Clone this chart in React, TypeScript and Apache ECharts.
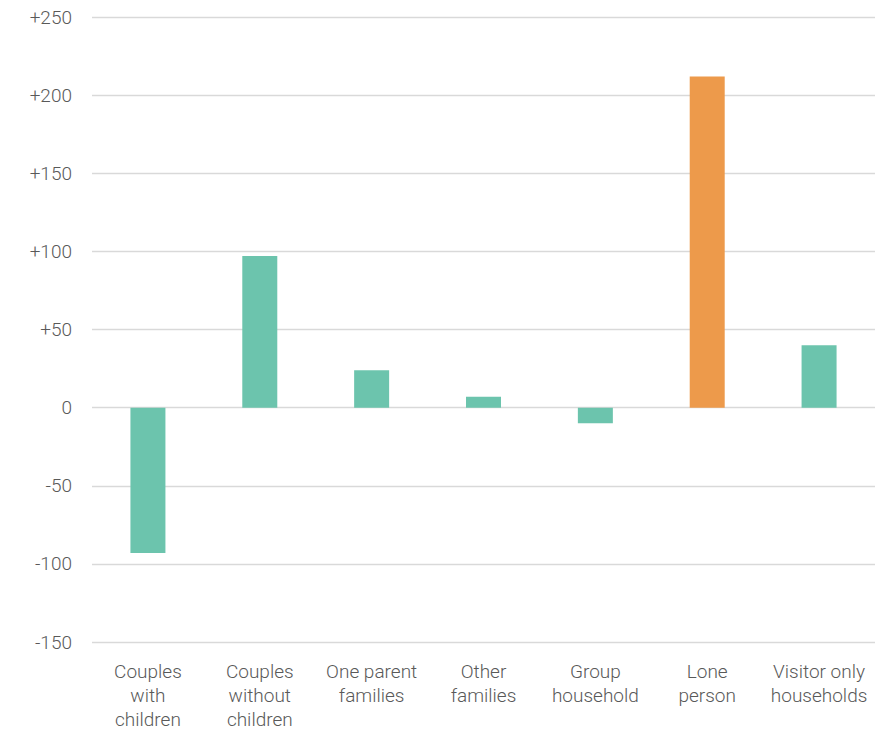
import React, { useEffect, useRef } from "react";
import * as echarts from "echarts";

// Household types and their change in count
const categories = [
  "Couples\nwith\nchildren",
  "Couples\nwithout\nchildren",
  "One parent\nfamilies",
  "Other\nfamilies",
  "Group\nhousehold",
  "Lone\nperson",
  "Visitor only\nhouseholds",
];
const changes = [-93, 97, 24, 7, -10, 212, 40];
const highlighted = [false, false, false, false, false, true, false];

const TEAL = "#6cc4ad";
const ORANGE = "#ed9a4b";
const TEXT = "#595959";
const FONT = "Roboto, 'Liberation Sans', sans-serif";

export default function App() {
  const ref = useRef<HTMLDivElement>(null);

  useEffect(() => {
    if (!ref.current) return;
    const chart = echarts.init(ref.current, undefined, { renderer: "svg" });
    chart.setOption({
      animation: false,
      grid: { left: 92, right: 17, top: 17, bottom: 88, containLabel: false },
      xAxis: {
        type: "category",
        data: categories,
        axisLine: { show: false },
        axisTick: { show: false },
        axisLabel: {
          color: TEXT,
          fontFamily: FONT,
          fontWeight: 300,
          fontSize: 19,
          lineHeight: 24,
          margin: 17,
          interval: 0,
        },
      },
      yAxis: {
        type: "value",
        min: -150,
        max: 250,
        interval: 50,
        axisLine: { show: false },
        axisTick: { show: false },
        splitLine: { lineStyle: { color: "#d9d9d9", width: 1.3 } },
        axisLabel: {
          color: TEXT,
          fontFamily: FONT,
          fontWeight: 300,
          fontSize: 19,
          margin: 20,
          formatter: (v: number) => (v > 0 ? "+" + v : String(v)),
        },
      },
      series: [
        {
          type: "bar",
          barWidth: 35,
          data: changes.map((v, i) => ({
            value: v,
            itemStyle: { color: highlighted[i] ? ORANGE : TEAL },
          })),
        },
      ],
    });
    return () => chart.dispose();
  }, []);

  return <div ref={ref} style={{ width: 892, height: 731, position: "absolute", left: 0, top: 0 }} />;
}
